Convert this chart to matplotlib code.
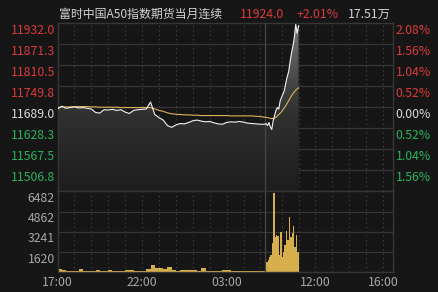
import numpy as np
import matplotlib.pyplot as plt
from matplotlib.colors import LinearSegmentedColormap
from matplotlib.transforms import blended_transform_factory, ScaledTranslation

plt.rcParams['font.family'] = ['Noto Sans CJK SC', 'DejaVu Sans']

# trading minutes counted from 17:00 with the 05:15-09:00 break removed
night_len = 735          # 17:00 -> 05:15
day_len = 455            # 09:00 -> 16:35
prev_close = 11689.0

# night session, 15 minute steps
night_price = [11684, 11692, 11686, 11688, 11690, 11687, 11688, 11686, 11684, 11674,
               11672, 11682, 11681, 11683, 11680, 11682, 11675, 11671, 11680, 11682,
               11683, 11684, 11704, 11668, 11659, 11652, 11636, 11631, 11638, 11642,
               11641, 11645, 11650, 11652, 11649, 11647, 11648, 11644, 11641, 11640,
               11645, 11647, 11646, 11648, 11646, 11643, 11642, 11641, 11640]
night_avg = [11688, 11690, 11690, 11690, 11691, 11691, 11691, 11691, 11690, 11690,
             11689, 11689, 11689, 11689, 11689, 11688, 11688, 11688, 11688, 11688,
             11688, 11688, 11688, 11684, 11680, 11677, 11673, 11670, 11669, 11668,
             11667, 11667, 11666, 11666, 11665, 11665, 11665, 11665, 11665, 11665,
             11665, 11664, 11664, 11664, 11664, 11664, 11664, 11663, 11662]
night_vol = [250, 150, 100, 100, 100, 220, 100, 100, 100, 200,
             100, 100, 180, 100, 100, 120, 200, 180, 100, 100,
             120, 250, 570, 320, 300, 280, 400, 200, 120, 150,
             160, 180, 130, 100, 330, 100, 100, 100, 100, 160,
             150, 100, 80, 80, 100, 100, 80, 80, 120]

# day session 09:00 -> 11:00, 5 minute steps
day_price = [11640, 11642, 11636, 11645, 11632, 11625, 11650, 11665, 11680, 11688,
             11684, 11708, 11718, 11728, 11738, 11760, 11778, 11792, 11820, 11845,
             11865, 11890, 11928, 11902, 11924]
day_avg = [11660, 11660, 11659, 11658, 11657, 11656, 11657, 11658, 11660, 11664,
           11668, 11672, 11676, 11682, 11688, 11694, 11701, 11708, 11715, 11722,
           11728, 11733, 11738, 11742, 11745]
day_vol = [1050, 800, 950, 1200, 1400, 2350, 6400, 2800, 3000, 2900,
           1400, 3200, 1200, 1600, 2200, 3300, 2600, 4400, 2800, 3100,
           3700, 2000, 3000, 1600]

price_ticks = [11932.0, 11871.3, 11810.5, 11749.8, 11689.0, 11628.3, 11567.5, 11506.8]
pct_labels = ['2.08%', '1.56%', '1.04%', '0.52%', '0.00%', '0.52%', '1.04%', '1.56%']
vol_ticks = [6482, 4862, 3241, 1620]
vol_tick_pos = [6482, 4861.5, 3241, 1620.5]
x_labels = ['17:00', '22:00', '03:00', '12:00', '16:00']
x_label_pos = [0, 300, 600, 915, 1155]

t_night = np.arange(len(night_price)) * 15
t_day = night_len + np.arange(len(day_price)) * 5
t = np.concatenate([t_night, t_day])
price = np.array(night_price + day_price, dtype=float)
avg = np.array(night_avg + day_avg, dtype=float)

bg = '#161616'
grid_c = '#363636'
red = '#dc3a3c'
green = '#2bb35c'
gray = '#a8a8a8'
vol_c = '#d6af4c'

fig = plt.figure(figsize=(4.39, 2.92), dpi=100, facecolor=bg)
ax1 = fig.add_axes([0.131, 0.3442, 0.7642, 0.5771], facecolor=bg)
ax2 = fig.add_axes([0.131, 0.0685, 0.7642, 0.2757], facecolor=bg)

ymin, ymax = 11446.0, 11932.0
xmax = night_len + day_len

# gradient fill under the price line
cmap = LinearSegmentedColormap.from_list('fill', [(0.0, '#1d1d1d'), (0.45, '#303030'),
                                                  (0.55, '#3a3a3a'), (1.0, '#767676')])
poly = ax1.fill_between(t, price, ymin, facecolor='none', edgecolor='none')
grad = np.linspace(0, 1, 256).reshape(-1, 1)
im = ax1.imshow(grad, extent=[t[0], t[-1], ymin, ymax], origin='lower', cmap=cmap,
                aspect='auto', zorder=1)
im.set_clip_path(poly.get_paths()[0], transform=ax1.transData)

ax1.plot(t, price, color='#f2f2f2', lw=0.8, zorder=4)
ax1.plot(t, avg, color='#d9b35a', lw=0.8, zorder=3)

ax2.bar(t_night, night_vol, width=15, align='edge', color=vol_c, lw=0)
ax2.bar(t_day[:-1], day_vol, width=5, align='edge', color=vol_c, lw=0)

hours = [h for h in range(0, night_len, 60)] + [night_len + h for h in range(60, day_len, 60)]
for ax in (ax1, ax2):
    ax.set_xlim(0, xmax)
    for h in hours:
        ax.axvline(h, color='#4a4a4a', lw=0.8, ls=(0, (1, 3)), zorder=0)
    ax.axvline(night_len, color='#464646', lw=0.9, zorder=2)
    ax.set_xticks([])
    ax.set_yticks([])
    for s in ax.spines.values():
        s.set_color(grid_c)
        s.set_linewidth(1.0)

ax1.set_ylim(ymin, ymax)
ax2.set_ylim(0, 6482)
for v in price_ticks[1:]:
    ax1.axhline(v, color=grid_c, lw=0.9, zorder=0)
for v in vol_tick_pos[1:]:
    ax2.axhline(v, color=grid_c, lw=0.9, zorder=0)

down = ScaledTranslation(0, -0.5 / 72, fig.dpi_scale_trans)
tr1 = blended_transform_factory(ax1.transAxes, ax1.transData) + down
for v, p in zip(price_ticks, pct_labels):
    if v > prev_close:
        c = red
    elif v < prev_close:
        c = green
    else:
        c = '#dadada'
    ax1.text(-0.008, v, f'{v:.1f}', transform=tr1, ha='right', va='top', color=c,
             fontsize=8.8)
    ax1.text(1.008, v, p, transform=tr1, ha='left', va='top', color=c, fontsize=8.8)

tr2 = blended_transform_factory(ax2.transAxes, ax2.transData) + down
for v, lab in zip(vol_tick_pos, vol_ticks):
    ax2.text(-0.008, v, str(lab), transform=tr2, ha='right', va='top', color=gray,
             fontsize=8.8)

trx = blended_transform_factory(ax2.transData, fig.transFigure)
for pos, lab in zip(x_label_pos, x_labels):
    ax2.text(pos, 1 - 282 / 292, lab, transform=trx, ha='center', va='center',
             color=gray, fontsize=8.8)

ty = 1 - 14 / 292
fig.text(59 / 439, ty, '富时中国A50指数期货当月连续', color='#d2d2d2', fontsize=8.6,
         ha='left', va='center')
fig.text(240 / 439, ty, '11924.0', color=red, fontsize=8.8, ha='left', va='center')
fig.text(296 / 439, ty, '+2.01%', color=red, fontsize=8.8, ha='left', va='center')
fig.text(348 / 439, ty, '17.51万', color='#d2d2d2', fontsize=8.8, ha='left', va='center')

fig.savefig('out.png', dpi=100, facecolor=bg)
